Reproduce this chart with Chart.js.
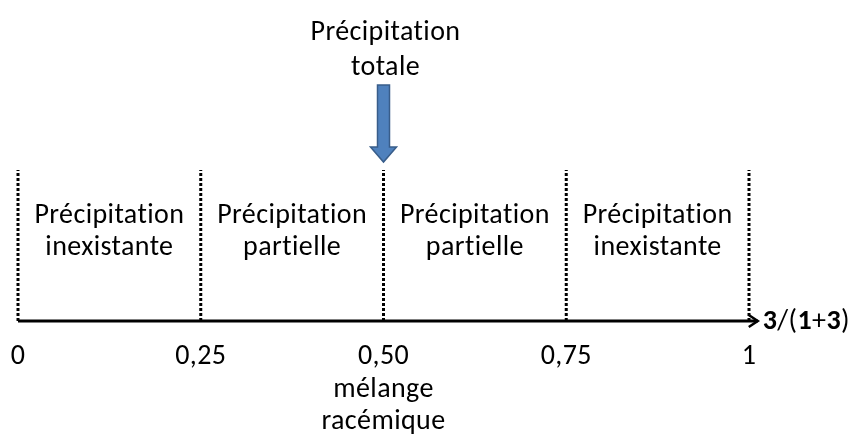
<!DOCTYPE html>
<html>
<head>
<meta charset="utf-8">
<script src="https://cdn.jsdelivr.net/npm/chart.js@4/dist/chart.umd.min.js"></script>
<style>
  body { margin: 0; background: #fff; }
  #c { display: block; }
</style>
</head>
<body>
<canvas id="c" width="868" height="434"></canvas>
<script>
// Fraction 3/(1+3) along the axis
const tickValues = [0, 0.25, 0.5, 0.75, 1];
const tickLabels = ['0', '0,25', '0,50', '0,75', '1'];
// dotted separators and their height (axis units)
const boundaries = [0, 0.25, 0.5, 0.75, 1];
const boundaryTop = 0.503;
// zones between separators
const zoneCenters = [0.125, 0.375, 0.625, 0.875];
const zoneLabels = [
    ['Précipitation', 'inexistante'],
    ['Précipitation', 'partielle'],
    ['Précipitation', 'partielle'],
    ['Précipitation', 'inexistante']
];
// arrow marking total precipitation
const arrowX = 0.5;
const arrowFrom = 0.787;
const arrowTo = 0.53;
const topLabel = ['Précipitation', 'totale'];
const bottomLabel = ['mélange', 'racémique'];
const axisEnd = 1.012;

const FONT = '28px Carlito, Lato, sans-serif';

const datasets = boundaries.map(b => ({
    data: [{x: b, y: 0}, {x: b, y: boundaryTop}],
    borderColor: '#000',
    borderWidth: 3,
    borderDash: [3, 2],
    pointRadius: 0,
    clip: false
}));
datasets.push({
    data: [{x: 0, y: 0}, {x: axisEnd, y: 0}],
    borderColor: '#000',
    borderWidth: 3,
    pointRadius: 0,
    clip: false
});

const diagramPlugin = {
    id: 'diagram',
    afterDatasetsDraw(chart) {
        const ctx = chart.ctx;
        const xs = chart.scales.x, ys = chart.scales.y;
        const dy = 2; // Carlito sits a bit high with 'middle'
        ctx.save();
        ctx.fillStyle = '#000';
        ctx.font = FONT;
        ctx.letterSpacing = '0.4px'; // also keeps "ti" from ligating
        ctx.textAlign = 'center';
        ctx.textBaseline = 'middle';

        // tick labels
        tickValues.forEach((v, i) => {
            ctx.fillText(tickLabels[i], xs.getPixelForValue(v), 355 + dy);
        });
        // under 0,50
        ctx.fillText(bottomLabel[0], xs.getPixelForValue(0.5), 388 + dy);
        ctx.fillText(bottomLabel[1], xs.getPixelForValue(0.5), 420 + dy);

        // zone labels
        zoneCenters.forEach((c, i) => {
            ctx.fillText(zoneLabels[i][0], xs.getPixelForValue(c), ys.getPixelForValue(0.357) + dy);
            ctx.fillText(zoneLabels[i][1], xs.getPixelForValue(c), ys.getPixelForValue(0.25) + dy);
        });

        // top label
        ctx.fillText(topLabel[0], xs.getPixelForValue(arrowX) + 2, ys.getPixelForValue(0.967) + dy);
        ctx.fillText(topLabel[1], xs.getPixelForValue(arrowX) + 2, ys.getPixelForValue(0.85) + dy);

        // axis arrowhead
        const ex = xs.getPixelForValue(axisEnd), ey = ys.getPixelForValue(0);
        ctx.strokeStyle = '#000';
        ctx.lineWidth = 2.5;
        ctx.beginPath();
        ctx.moveTo(ex - 9, ey - 6);
        ctx.lineTo(ex, ey);
        ctx.lineTo(ex - 9, ey + 6);
        ctx.stroke();

        // axis title 3/(1+3)
        ctx.textAlign = 'left';
        const parts = [['3', true], ['/(', false], ['1', true], ['+', false], ['3', true], [')', false]];
        let tx = ex + 5;
        parts.forEach(([t, bold]) => {
            ctx.font = (bold ? 'bold ' : '') + FONT;
            ctx.fillText(t, tx, ey + 1);
            tx += ctx.measureText(t).width;
        });

        // blue down arrow
        const ax = xs.getPixelForValue(arrowX);
        const y0 = ys.getPixelForValue(arrowFrom), y1 = ys.getPixelForValue(arrowTo);
        const headH = 15, shaftW = 6, headW = 13;
        ctx.beginPath();
        ctx.moveTo(ax - shaftW, y0);
        ctx.lineTo(ax + shaftW, y0);
        ctx.lineTo(ax + shaftW, y1 - headH);
        ctx.lineTo(ax + headW, y1 - headH);
        ctx.lineTo(ax, y1);
        ctx.lineTo(ax - headW, y1 - headH);
        ctx.lineTo(ax - shaftW, y1 - headH);
        ctx.closePath();
        ctx.fillStyle = '#4F81BD';
        ctx.fill();
        ctx.strokeStyle = '#385D8A';
        ctx.lineWidth = 1.5;
        ctx.stroke();
        ctx.restore();
    }
};

new Chart(document.getElementById('c'), {
    type: 'line',
    data: { datasets: datasets },
    options: {
        responsive: false,
        animation: false,
        layout: { padding: { left: 18, right: 119, top: 21, bottom: 113 } },
        plugins: { legend: { display: false }, tooltip: { enabled: false } },
        scales: {
            x: { type: 'linear', min: 0, max: 1, display: false },
            y: { type: 'linear', min: 0, max: 1, display: false }
        }
    },
    plugins: [diagramPlugin]
});
</script>
</body>
</html>
